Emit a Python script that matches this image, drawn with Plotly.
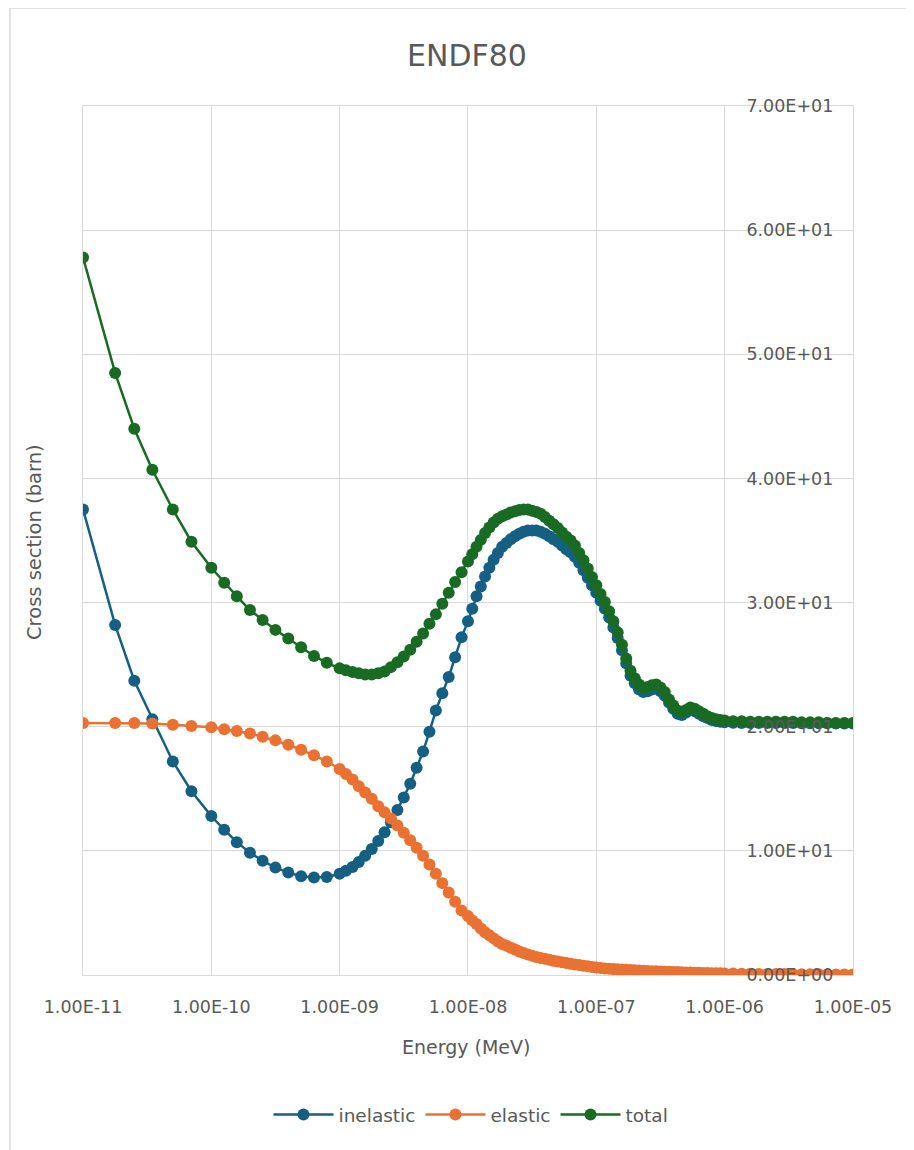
import plotly.graph_objects as go

# ---------------- data ----------------
energy_mev = [
    1.00e-11, 1.78e-11, 2.51e-11, 3.47e-11, 5.01e-11, 7.00e-11,
    1.00e-10, 1.26e-10, 1.58e-10, 2.00e-10, 2.51e-10, 3.16e-10, 3.98e-10, 5.01e-10, 6.31e-10, 7.94e-10,
    1.00e-9, 1.12e-9, 1.26e-9, 1.41e-9, 1.58e-9, 1.78e-9, 2.00e-9, 2.24e-9, 2.51e-9, 2.82e-9,
    3.16e-9, 3.55e-9, 3.98e-9, 4.47e-9, 5.01e-9, 5.62e-9, 6.31e-9, 7.08e-9, 7.94e-9, 8.91e-9,
    1.000e-8, 1.080e-8, 1.166e-8, 1.259e-8, 1.359e-8, 1.468e-8, 1.585e-8, 1.711e-8, 1.848e-8, 1.995e-8,
    2.154e-8, 2.326e-8, 2.512e-8, 2.712e-8, 2.929e-8, 3.162e-8, 3.415e-8, 3.687e-8, 3.981e-8, 4.299e-8,
    4.642e-8, 5.012e-8, 5.412e-8, 5.843e-8, 6.310e-8, 6.813e-8, 7.356e-8, 7.943e-8, 8.577e-8, 9.261e-8,
    1.000e-7, 1.080e-7, 1.166e-7, 1.259e-7, 1.359e-7, 1.468e-7, 1.585e-7, 1.711e-7, 1.848e-7, 1.995e-7,
    2.154e-7, 2.326e-7, 2.512e-7, 2.712e-7, 2.929e-7, 3.162e-7, 3.415e-7, 3.687e-7, 3.981e-7, 4.299e-7,
    4.642e-7, 5.012e-7, 5.412e-7, 5.843e-7, 6.310e-7, 6.813e-7, 7.356e-7, 7.943e-7, 8.577e-7, 9.261e-7,
    1.000e-6, 1.166e-6, 1.359e-6, 1.585e-6, 1.848e-6, 2.154e-6, 2.512e-6, 2.929e-6, 3.415e-6, 3.981e-6,
    4.642e-6, 5.412e-6, 6.310e-6, 7.356e-6, 8.577e-6, 1.000e-5,
]

inelastic = [
    37.5, 28.2, 23.7, 20.6, 17.2, 14.8,
    12.8, 11.7, 10.7, 9.85, 9.2, 8.65, 8.25, 7.95, 7.85, 7.9,
    8.15, 8.4, 8.7, 9.1, 9.6, 10.15, 10.8, 11.5, 12.3, 13.3,
    14.3, 15.4, 16.7, 18.0, 19.6, 21.3, 22.7, 24.0, 25.6, 27.2,
    28.5, 29.5, 30.5, 31.3, 32.1, 32.8, 33.45, 34.0, 34.5, 34.8,
    35.1, 35.35, 35.55, 35.7, 35.8, 35.8, 35.8, 35.7, 35.55, 35.35,
    35.1, 34.9, 34.6, 34.3, 34.05, 33.7, 33.2, 32.6, 32.0, 31.4,
    30.8, 30.15, 29.5, 28.8, 28.0, 27.15, 26.15, 25.1, 24.1, 23.5,
    23.0, 22.8, 22.85, 23.0, 23.1, 22.85, 22.5, 21.95, 21.45, 21.05,
    20.95, 21.15, 21.35, 21.25, 21.05, 20.85, 20.7, 20.55, 20.45, 20.4,
    20.35, 20.32, 20.3, 20.3, 20.3, 20.3, 20.3, 20.3, 20.3, 20.28,
    20.28, 20.27, 20.27, 20.26, 20.26, 20.25,
]

elastic = [
    20.3, 20.3, 20.3, 20.25, 20.15, 20.05,
    19.95, 19.8, 19.65, 19.45, 19.2, 18.9, 18.55, 18.15, 17.7, 17.2,
    16.6, 16.2, 15.75, 15.2, 14.7, 14.2, 13.6, 13.1, 12.6, 12.05,
    11.45, 10.85, 10.25, 9.6, 8.9, 8.15, 7.4, 6.65, 5.9, 5.2,
    4.75, 4.4, 4.1, 3.75, 3.45, 3.2, 2.95, 2.7, 2.5, 2.35,
    2.2, 2.05, 1.9, 1.78, 1.65, 1.55, 1.45, 1.37, 1.3, 1.22,
    1.15, 1.08, 1.02, 0.96, 0.9, 0.85, 0.8, 0.75, 0.7, 0.65,
    0.6, 0.56, 0.53, 0.5, 0.48, 0.46, 0.44, 0.42, 0.41, 0.39,
    0.37, 0.35, 0.33, 0.31, 0.30, 0.29, 0.27, 0.26, 0.25, 0.24,
    0.22, 0.21, 0.2, 0.19, 0.18, 0.17, 0.16, 0.15, 0.145, 0.14,
    0.13, 0.12, 0.11, 0.10, 0.09, 0.085, 0.08, 0.075, 0.07, 0.065,
    0.06, 0.055, 0.05, 0.048, 0.045, 0.04,
]

total = [
    57.8, 48.5, 44.0, 40.7, 37.5, 34.9,
    32.8, 31.6, 30.5, 29.4, 28.6, 27.8, 27.1, 26.4, 25.7, 25.15,
    24.7, 24.55, 24.4, 24.3, 24.2, 24.2, 24.3, 24.45, 24.8, 25.2,
    25.65, 26.2, 26.85, 27.5, 28.3, 29.05, 29.9, 30.8, 31.65, 32.45,
    33.3, 33.9, 34.5, 35.05, 35.6, 36.05, 36.45, 36.75, 36.95, 37.1,
    37.25, 37.35, 37.45, 37.5, 37.5, 37.4, 37.3, 37.15, 36.9, 36.6,
    36.3, 36.0, 35.65, 35.3, 35.0, 34.6, 34.0, 33.4, 32.75, 32.05,
    31.4, 30.7, 30.05, 29.3, 28.5, 27.6, 26.6, 25.5, 24.5, 23.9,
    23.4, 23.15, 23.2, 23.35, 23.4, 23.15, 22.8, 22.2, 21.7, 21.3,
    21.2, 21.35, 21.55, 21.45, 21.25, 21.05, 20.85, 20.7, 20.6, 20.55,
    20.5, 20.45, 20.45, 20.4, 20.4, 20.4, 20.4, 20.4, 20.4, 20.35,
    20.35, 20.35, 20.3, 20.3, 20.3, 20.3,
]

series_names = ["inelastic", "elastic", "total"]
series_colors = ["#156082", "#E97132", "#196B24"]

x_tick_vals = [1e-11, 1e-10, 1e-9, 1e-8, 1e-7, 1e-6, 1e-5]
x_tick_text = ["1.00E-11", "1.00E-10", "1.00E-09", "1.00E-08", "1.00E-07", "1.00E-06", "1.00E-05"]
y_tick_vals = [0, 10, 20, 30, 40, 50, 60, 70]
y_tick_text = ["0.00E+00", "1.00E+01", "2.00E+01", "3.00E+01", "4.00E+01", "5.00E+01", "6.00E+01", "7.00E+01"]

# ---------------- figure ----------------
OFF = 8                      # page body margin
PAGE_W, PAGE_H = 914, 1150
W, H = PAGE_W - OFF, PAGE_H - OFF
# plot area in page pixels: x 83..853, y 106..975
L = 83 - OFF
T = 106 - OFF
R = W - (853 - OFF)
B = H - (975 - OFF)
PW, PH = W - L - R, H - T - B

def px(xp):   # page x -> paper
    return (xp - OFF - L) / PW

def py(yp):   # page y -> paper
    return (H - B - (yp - OFF)) / PH

FONT = "DejaVu Sans"
GREY = "#595959"
GRID = "#d9d9d9"

fig = go.Figure()
for name, vals, col in zip(series_names, [inelastic, elastic, total], series_colors):
    fig.add_trace(go.Scatter(
        x=energy_mev, y=vals, name=name, mode="lines+markers",
        line=dict(color=col, width=2.5),
        marker=dict(color=col, size=12, symbol="circle"),
    ))

fig.update_layout(
    width=W, height=H,
    margin=dict(l=L, r=R, t=T, b=B, pad=0),
    paper_bgcolor="white", plot_bgcolor="white",
    font=dict(family=FONT, size=17, color=GREY),
    title=dict(text="ENDF80", x=px(467), xref="paper", xanchor="center",
               y=1 - (55 - OFF) / H, yref="container", yanchor="middle",
               font=dict(family=FONT, size=30, color=GREY)),
    showlegend=True,
    legend=dict(orientation="h", x=px(471), xanchor="center", y=py(1115), yanchor="middle",
                font=dict(family=FONT, size=18.5, color=GREY), itemwidth=60,
                bgcolor="rgba(0,0,0,0)"),
    xaxis=dict(type="log", range=[-11, -4.9995], tickvals=x_tick_vals, ticktext=x_tick_text,
               showgrid=True, gridcolor=GRID, gridwidth=1.3, zeroline=False,
               showline=True, linecolor=GRID, linewidth=1.3, mirror=True,
               ticks="", tickfont=dict(family=FONT, size=17.5, color=GREY),
               ticklabelstandoff=16, ticklabeloverflow="allow"),
    yaxis=dict(range=[0, 70], tickvals=y_tick_vals, ticktext=y_tick_text,
               side="right", ticklabelposition="inside", ticklabelstandoff=20,
               ticklabeloverflow="allow",
               showgrid=True, gridcolor=GRID, gridwidth=1.3, zeroline=False,
               showline=True, linecolor=GRID, linewidth=1.3, mirror=True,
               ticks="", tickfont=dict(family=FONT, size=17.5, color=GREY)),
    annotations=[
        dict(text="Energy (MeV)", x=px(466), y=py(1047), xref="paper", yref="paper",
             showarrow=False, xanchor="center", yanchor="middle",
             font=dict(family=FONT, size=19, color=GREY)),
        dict(text="Cross section (barn)", x=px(34), y=py(542), xref="paper", yref="paper",
             showarrow=False, textangle=-90, xanchor="center", yanchor="middle",
             font=dict(family=FONT, size=19.5, color=GREY)),
    ],
    shapes=[
        dict(type="line", xref="paper", yref="paper", x0=px(10), x1=px(10), y0=py(8), y1=py(1150),
             line=dict(color="#e3e3e3", width=2)),
        dict(type="line", xref="paper", yref="paper", x0=px(10), x1=px(914), y0=py(8), y1=py(8),
             line=dict(color="#e3e3e3", width=2)),
    ],
)

fig.write_html("out.html")
